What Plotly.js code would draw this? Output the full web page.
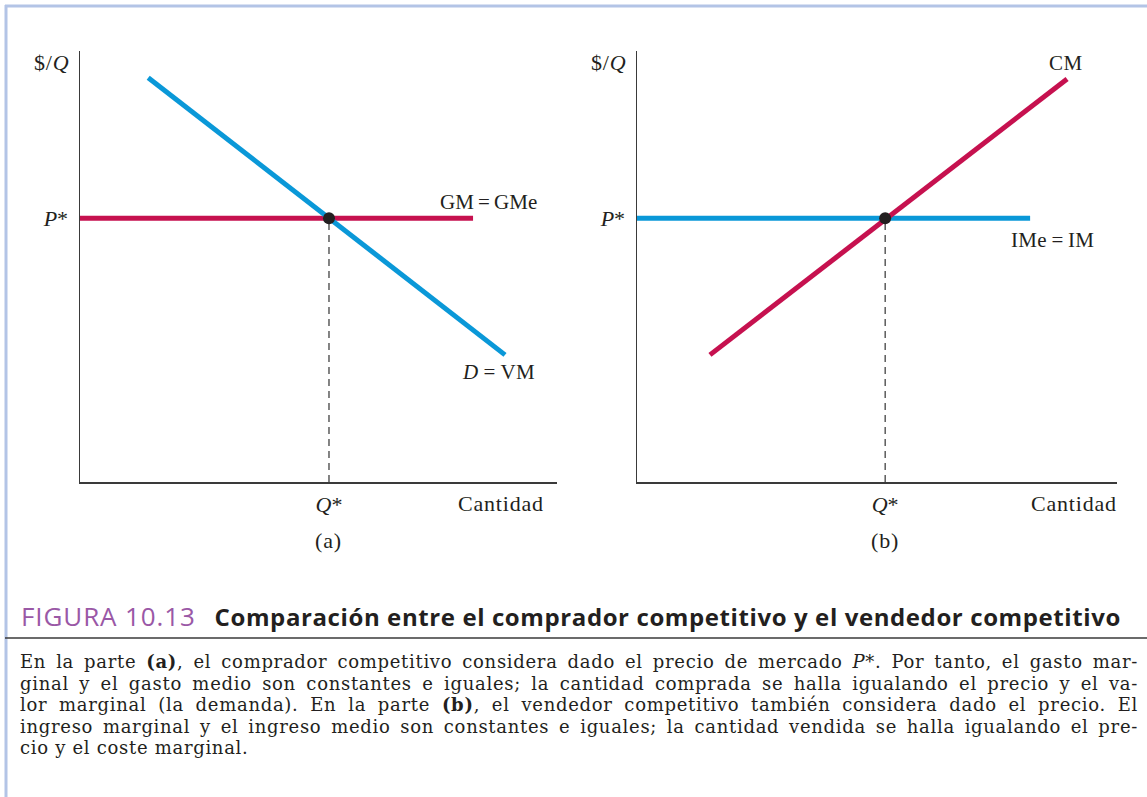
<!DOCTYPE html>
<html>
<head>
<meta charset="utf-8">
<script src="https://cdn.plot.ly/plotly-3.0.1.min.js"></script>
<style>
  html, body { margin: 0; padding: 0; background: #ffffff; }
  #chart { width: 1147px; height: 797px; }
</style>
</head>
<body>
<div id="chart"></div>
<script>
// ---- Data (arbitrary units 0..10) ----
// Panel (a): competitive buyer
const demandQ = [1.43, 8.91];      // D = VM
const demandP = [9.38, 2.95];
const gmQ = [0, 8.24];             // GM = GMe (horizontal at P*)
const gmP = [6.12, 6.12];
const qStarA = 5.22;
// Panel (b): competitive seller
const costQ = [1.52, 8.96];        // CM
const costP = [2.95, 9.35];
const imQ = [0, 8.19];             // IMe = IM (horizontal at P*)
const imP = [6.12, 6.12];
const qStarB = 5.17;
const pStar = 6.12;

const TS = '\u2009';
const pLabel = ['<i>P</i>*'];
const qLabel = ['<i>Q</i>*'];
const bodyLines = [
  'En la parte <b>(a)</b>, el comprador competitivo considera dado el precio de mercado <i>P</i>*. Por tanto, el gasto mar-',
  'ginal y el gasto medio son constantes e iguales; la cantidad comprada se halla igualando el precio y el va-',
  'lor marginal (la demanda). En la parte <b>(b)</b>, el vendedor competitivo también considera dado el precio. El',
  'ingreso marginal y el ingreso medio son constantes e iguales; la cantidad vendida se halla igualando el pre-',
  'cio y el coste marginal.'
];

const blue = '#0a98d8';
const red = '#c6114f';
const ink = '#231f20';
const serif = 'Liberation Serif, Times New Roman, serif';
const bodySerif = 'DejaVu Serif, Liberation Serif, serif';

const W = 1147, H = 797;
const px = v => v / W;
const py = v => 1 - v / H;
const ls = (t, s) => '<span style="letter-spacing:' + (s === undefined ? 0.8 : s) + 'px">' + t + '</span>';

const traces = [
  {x: gmQ, y: gmP, xaxis: 'x', yaxis: 'y', mode: 'lines', line: {color: red, width: 5}},
  {x: demandQ, y: demandP, xaxis: 'x', yaxis: 'y', mode: 'lines', line: {color: blue, width: 5}},
  {x: [qStarA, qStarA], y: [0, pStar], xaxis: 'x', yaxis: 'y', mode: 'lines', line: {color: '#333', width: 1.2, dash: '7px,5px'}},
  {x: [qStarA], y: [pStar], xaxis: 'x', yaxis: 'y', mode: 'markers', marker: {color: ink, size: 12}},

  {x: imQ, y: imP, xaxis: 'x2', yaxis: 'y2', mode: 'lines', line: {color: blue, width: 5}},
  {x: costQ, y: costP, xaxis: 'x2', yaxis: 'y2', mode: 'lines', line: {color: red, width: 5}},
  {x: [qStarB, qStarB], y: [0, pStar], xaxis: 'x2', yaxis: 'y2', mode: 'lines', line: {color: '#333', width: 1.2, dash: '7px,5px'}},
  {x: [qStarB], y: [pStar], xaxis: 'x2', yaxis: 'y2', mode: 'markers', marker: {color: ink, size: 12}}
];
traces.forEach(t => { t.showlegend = false; t.hoverinfo = 'skip'; t.cliponaxis = false; });

const axisBase = {
  showgrid: false, zeroline: false, showline: true, linecolor: '#3a3a3a', linewidth: 1.5,
  ticks: '', fixedrange: true, tickfont: {family: serif, size: 22, color: ink}
};

const labelFont = {family: serif, size: 22, color: ink};
const curveFont = {family: serif, size: 21, color: ink};
const bodyFont = {family: bodySerif, size: 18, color: ink};
const bodyY = [661, 683, 704, 726, 747];

const annotations = [
  // panel (a)
  {xref: 'x', yref: 'y', x: 0, y: 10, xanchor: 'right', yanchor: 'top', xshift: -9, yshift: 3, text: ls('$/<i>Q</i>'), showarrow: false, font: labelFont},
  {xref: 'x', yref: 'y', x: 10, y: 0, xanchor: 'right', yanchor: 'top', xshift: -11, yshift: -7, text: ls('Cantidad'), showarrow: false, font: labelFont},
  {xref: 'x', yref: 'y', x: 7.5, y: 6.5, xanchor: 'left', yanchor: 'middle', text: 'GM' + TS + '=' + TS + 'GMe', showarrow: false, font: curveFont},
  {xref: 'x', yref: 'y', x: 8.78, y: 2.55, xanchor: 'center', yanchor: 'middle', text: ls('<i>D</i>' + TS + '=' + TS + 'VM', 0.5), showarrow: false, font: curveFont},
  {xref: 'x', yref: 'paper', x: qStarA, y: py(540), xanchor: 'center', yanchor: 'middle', text: ls('(a)'), showarrow: false, font: labelFont},
  // panel (b)
  {xref: 'x2', yref: 'y2', x: 0, y: 10, xanchor: 'right', yanchor: 'top', xshift: -9, yshift: 3, text: ls('$/<i>Q</i>'), showarrow: false, font: labelFont},
  {xref: 'x2', yref: 'y2', x: 10, y: 0, xanchor: 'right', yanchor: 'top', xshift: 2, yshift: -7, text: ls('Cantidad'), showarrow: false, font: labelFont},
  {xref: 'x2', yref: 'y2', x: 8.92, y: 9.72, xanchor: 'center', yanchor: 'middle', text: ls('CM', 0.4), showarrow: false, font: curveFont},
  {xref: 'x2', yref: 'y2', x: 8.65, y: 5.61, xanchor: 'center', yanchor: 'middle', text: ls('IMe' + TS + '=' + TS + 'IM', 0.3), showarrow: false, font: curveFont},
  {xref: 'x2', yref: 'paper', x: qStarB, y: py(540), xanchor: 'center', yanchor: 'middle', text: ls('(b)'), showarrow: false, font: labelFont},
  // caption title
  {xref: 'paper', yref: 'paper', x: px(19), y: py(616), xanchor: 'left', yanchor: 'middle', showarrow: false,
   text: '<span style="color:#9a58a6;font-size:26px;letter-spacing:0.9px">FIGURA 10.13</span>&nbsp;&nbsp;&nbsp;<b><span style="letter-spacing:0.6px">Comparación entre el comprador competitivo y el vendedor competitivo</span></b>',
   font: {family: 'Open Sans, Lato, sans-serif', size: 24, color: ink}}
];

const bodyStart = annotations.length;
const BODY_LS = 0.7;
function lineText(t, ws) {
  return '<span style="letter-spacing:' + BODY_LS + 'px' + (ws ? ';word-spacing:' + ws.toFixed(2) + 'px' : '') + '">' + t + '</span>';
}
bodyLines.forEach((t, i) => {
  annotations.push({xref: 'paper', yref: 'paper', x: px(19), y: py(bodyY[i]), xanchor: 'left', yanchor: 'middle',
    showarrow: false, borderpad: 0, font: bodyFont, text: lineText(t, 0)});
});

const shapes = [
  {type: 'line', xref: 'paper', yref: 'paper', x0: px(5), x1: 1, y0: py(6), y1: py(6), line: {color: '#b3c4e6', width: 3}},
  {type: 'line', xref: 'paper', yref: 'paper', x0: px(6), x1: px(6), y0: 0, y1: py(5), line: {color: '#b3c4e6', width: 3}},
  {type: 'line', xref: 'paper', yref: 'paper', x0: px(5), x1: 1, y0: py(638), y1: py(638), line: {color: '#3a3a3a', width: 1.5}}
];

const layout = {
  width: W, height: H,
  margin: {l: 0, r: 0, t: 0, b: 0},
  paper_bgcolor: '#ffffff', plot_bgcolor: 'rgba(0,0,0,0)',
  showlegend: false,
  xaxis: Object.assign({}, axisBase, {domain: [px(80), px(557)], range: [0, 10], anchor: 'y',
    tickvals: [qStarA], ticktext: qLabel, ticklabelstandoff: 2}),
  yaxis: Object.assign({}, axisBase, {domain: [py(482), py(51)], range: [0, 10], anchor: 'x',
    tickvals: [pStar], ticktext: pLabel, ticklabelstandoff: 6}),
  xaxis2: Object.assign({}, axisBase, {domain: [px(637), px(1117)], range: [0, 10], anchor: 'y2',
    tickvals: [qStarB], ticktext: qLabel, ticklabelstandoff: 2}),
  yaxis2: Object.assign({}, axisBase, {domain: [py(482), py(51)], range: [0, 10], anchor: 'x2',
    tickvals: [pStar], ticktext: pLabel, ticklabelstandoff: 6}),
  annotations: annotations,
  shapes: shapes
};

const gd = document.getElementById('chart');
Plotly.newPlot(gd, traces, layout, {staticPlot: true, displayModeBar: false}).then(() => {
  // justify the first four caption lines to the right margin, as in the printed figure
  const rightEdge = 1138;
  const groups = gd.querySelectorAll('.annotation');
  const upd = {};
  for (let i = 0; i < bodyLines.length - 1; i++) {
    const g = groups[bodyStart + i];
    const txt = g && g.querySelector('.annotation-text');
    if (!txt) continue;
    const r = txt.getBoundingClientRect();
    const nSpaces = (bodyLines[i].replace(/<[^>]+>/g, '').match(/ /g) || []).length;
    const extra = rightEdge - r.right;
    if (nSpaces > 0 && Math.abs(extra) < 300) {
      upd['annotations[' + (bodyStart + i) + '].text'] = lineText(bodyLines[i], extra / nSpaces);
    }
  }
  if (Object.keys(upd).length) Plotly.relayout(gd, upd);
});
</script>
</body>
</html>
